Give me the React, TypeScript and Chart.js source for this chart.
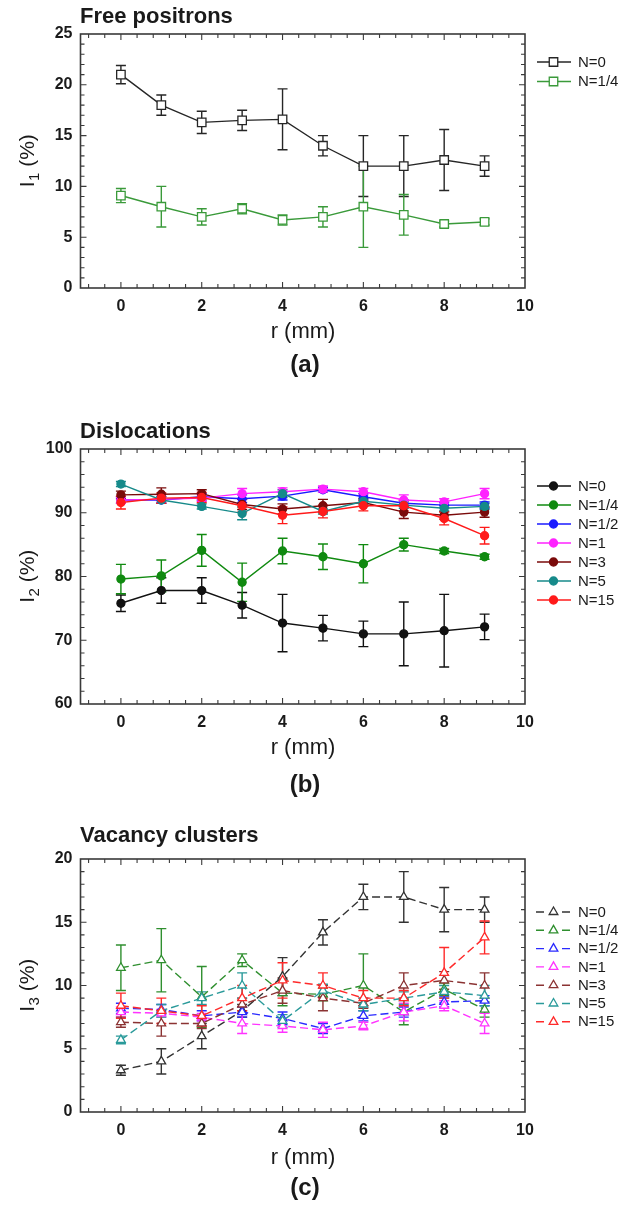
import React, { useEffect, useRef } from 'react';
import { Chart, registerables } from 'chart.js';
Chart.register(...registerables);

const FONT = '"Liberation Sans", Arial, Helvetica, sans-serif';

// x positions (mm)
const R_MM = [0, 1, 2, 3, 4, 5, 6, 7, 8, 9];
const X_TICKS = [0, 2, 4, 6, 8, 10];

// ---- Panel (a) Free positrons, I1 (%)
const A_LABELS = ['N=0', 'N=1/4'];
const A_N0 = [21, 18, 16.3, 16.5, 16.6, 14, 12, 12, 12.6, 12];
const A_N0_ERR = [0.9, 1.0, 1.1, 1.0, 3.0, 1.0, 3.0, 3.0, 3.0, 1.0];
const A_N14 = [9.1, 8, 7, 7.8, 6.7, 7, 8, 7.2, 6.3, 6.5];
const A_N14_ERR = [0.7, 2, 0.8, 0.5, 0.5, 1, 4, 2, 0.3, 0.3];

// ---- Panel (b) Dislocations, I2 (%)
const B_LABELS = ['N=0', 'N=1/4', 'N=1/2', 'N=1', 'N=3', 'N=5', 'N=15'];
const B_N0 = [75.8, 77.8, 77.8, 75.5, 72.7, 71.9, 71.0, 71.0, 71.5, 72.1];
const B_N0_ERR = [1.3, 2, 2, 2, 4.5, 2, 2, 5, 5.7, 2];
const B_N14 = [79.6, 80.1, 84.1, 79.1, 84.0, 83.1, 82.0, 85.0, 84.0, 83.1];
const B_N14_ERR = [2.3, 2.5, 2.5, 3, 2, 2, 3, 1, 0.4, 0.4];
const B_N12 = [92.0, 92.0, 92.5, 92.2, 92.6, 93.6, 92.5, 91.5, 91.2, 91.2];
const B_N12_ERR = [0.5, 0.5, 0.5, 0.6, 0.6, 0.4, 0.5, 0.5, 0.4, 0.5];
const B_N1 = [92.0, 92.1, 92.3, 93.0, 93.3, 93.7, 93.3, 92.0, 91.7, 93.0];
const B_N1_ERR = [0.5, 0.5, 0.5, 0.8, 0.6, 0.5, 0.5, 0.8, 0.5, 0.8];
const B_N3 = [92.8, 92.9, 93.0, 91.3, 90.6, 91.1, 91.6, 90.1, 89.6, 90.1];
const B_N3_ERR = [0.6, 1.0, 0.6, 0.8, 0.8, 1.0, 0.6, 1.0, 0.6, 0.8];
const B_N5 = [94.5, 92.0, 91.0, 89.9, 93.0, 90.2, 91.8, 91.2, 90.7, 91.0];
const B_N5_ERR = [0.4, 0.5, 0.4, 1.0, 0.6, 0.4, 0.5, 0.5, 0.4, 0.5];
const B_N15 = [91.6, 92.3, 92.4, 91.1, 89.6, 90.2, 91.1, 91.1, 89.1, 86.4];
const B_N15_ERR = [1.0, 0.8, 0.8, 1.0, 1.3, 1.0, 0.8, 0.8, 1.0, 1.3];

// ---- Panel (c) Vacancy clusters, I3 (%)
const C_LABELS = ['N=0', 'N=1/4', 'N=1/2', 'N=1', 'N=3', 'N=5', 'N=15'];
const C_N0 = [3.3, 4.0, 6.0, 8.0, 10.7, 14.2, 17.0, 17.0, 16.0, 16.0];
const C_N0_ERR = [0.4, 1.0, 1.0, 0.5, 1.5, 1.0, 1.0, 2.0, 1.75, 1.0];
const C_N14 = [11.4, 12.0, 9.1, 12.0, 9.4, 9.3, 10.0, 7.9, 9.7, 8.1];
const C_N14_ERR = [1.8, 2.5, 2.4, 0.5, 1.0, 0.5, 2.5, 1.0, 0.5, 0.6];
const C_N12 = [8.2, 8.1, 7.6, 7.9, 7.4, 6.6, 7.6, 7.9, 8.7, 8.8];
const C_N12_ERR = [0.4, 0.4, 0.4, 0.4, 0.5, 0.4, 0.4, 0.4, 0.4, 0.4];
const C_N1 = [7.9, 7.8, 7.5, 7.0, 6.8, 6.5, 6.8, 7.9, 8.4, 7.0];
const C_N1_ERR = [0.4, 0.3, 0.3, 0.8, 0.5, 0.6, 0.3, 0.7, 0.4, 0.8];
const C_N3 = [7.1, 7.0, 7.0, 8.5, 9.6, 9.0, 8.6, 10.0, 10.4, 10.0];
const C_N3_ERR = [0.4, 1.0, 0.4, 0.5, 1.0, 1.0, 0.4, 1.0, 0.7, 1.0];
const C_N5 = [5.7, 8.0, 9.0, 10.0, 7.2, 9.6, 8.5, 9.0, 9.5, 9.2];
const C_N5_ERR = [0.3, 0.5, 0.5, 1.0, 0.5, 0.5, 0.5, 0.5, 0.5, 0.8];
const C_N15 = [8.4, 8.0, 7.6, 9.0, 10.4, 10.0, 9.0, 9.0, 11.0, 13.8];
const C_N15_ERR = [1.0, 1.0, 0.8, 1.0, 1.4, 1.0, 0.6, 0.6, 2.0, 1.3];

type Panel = {
  top: number; height: number; areaTop: number; areaBottom: number;
  title: string; sub: string; letter: string;
  yMin: number; yMax: number; yStep: number; yMinor: number;
  series: number[][]; errs: number[][]; colors: string[]; labels: string[];
  marker: 'rect' | 'circle' | 'triangle'; filled: boolean; dashed: boolean; radius: number;
  titleY: number; xTitleY: number; letterY: number; legendY0: number; legendDy: number;
};

const PANELS: Panel[] = [
  {
    top: 0, height: 400, areaTop: 34, areaBottom: 288,
    title: 'Free positrons', sub: '1', letter: '(a)',
    yMin: 0, yMax: 25, yStep: 5, yMinor: 1,
    series: [A_N0, A_N14], errs: [A_N0_ERR, A_N14_ERR],
    colors: ['#262626', '#3a9a3a'], labels: A_LABELS,
    marker: 'rect', filled: false, dashed: false, radius: 6,
    titleY: 17, xTitleY: 332, letterY: 365, legendY0: 62, legendDy: 19.5,
  },
  {
    top: 400, height: 400, areaTop: 49, areaBottom: 304,
    title: 'Dislocations', sub: '2', letter: '(b)',
    yMin: 60, yMax: 100, yStep: 10, yMinor: 2,
    series: [B_N0, B_N14, B_N12, B_N1, B_N3, B_N5, B_N15],
    errs: [B_N0_ERR, B_N14_ERR, B_N12_ERR, B_N1_ERR, B_N3_ERR, B_N5_ERR, B_N15_ERR],
    colors: ['#111111', '#108a10', '#1a1aff', '#ff22ff', '#7a0a0a', '#168a8a', '#ff1a1a'], labels: B_LABELS,
    marker: 'circle', filled: true, dashed: false, radius: 4.5,
    titleY: 32, xTitleY: 348, letterY: 385, legendY0: 86, legendDy: 19,
  },
  {
    top: 800, height: 407, areaTop: 59, areaBottom: 312,
    title: 'Vacancy clusters', sub: '3', letter: '(c)',
    yMin: 0, yMax: 20, yStep: 5, yMinor: 1,
    series: [C_N0, C_N14, C_N12, C_N1, C_N3, C_N5, C_N15],
    errs: [C_N0_ERR, C_N14_ERR, C_N12_ERR, C_N1_ERR, C_N3_ERR, C_N5_ERR, C_N15_ERR],
    colors: ['#333333', '#2f8f2f', '#2a2aff', '#ff33ff', '#8b3333', '#2a9a9a', '#ff2a2a'], labels: C_LABELS,
    marker: 'triangle', filled: false, dashed: true, radius: 5,
    titleY: 36, xTitleY: 358, letterY: 388, legendY0: 112, legendDy: 18.3,
  },
];

const W = 620;
const AREA_LEFT = 80.5;
const AREA_RIGHT = 525;

function drawMarker(ctx: CanvasRenderingContext2D, p: Panel, x: number, y: number, color: string) {
  ctx.save();
  ctx.setLineDash([]);
  ctx.lineWidth = 1.3;
  ctx.strokeStyle = color;
  ctx.fillStyle = p.filled ? color : '#ffffff';
  ctx.beginPath();
  if (p.marker === 'circle') {
    ctx.arc(x, y, p.radius - 0.5, 0, Math.PI * 2);
  } else if (p.marker === 'rect') {
    const s = p.radius * Math.SQRT1_2;
    ctx.rect(x - s, y - s, 2 * s, 2 * s);
  } else {
    const r = p.radius;
    ctx.moveTo(x, y - r);
    ctx.lineTo(x + r * Math.sin(2 * Math.PI / 3), y - r * Math.cos(2 * Math.PI / 3));
    ctx.lineTo(x + r * Math.sin(4 * Math.PI / 3), y - r * Math.cos(4 * Math.PI / 3));
    ctx.closePath();
  }
  ctx.fill();
  ctx.stroke();
  ctx.restore();
}

function makePlugin(p: Panel) {
  return {
    id: 'panelDecor',
    beforeDatasetsDraw(chart: any) {
      const ctx: CanvasRenderingContext2D = chart.ctx;
      const xs = chart.scales.x;
      const ys = chart.scales.y;
      p.series.forEach((ser, i) => {
        ctx.save();
        ctx.strokeStyle = p.colors[i];
        ctx.lineWidth = 1.4;
        ctx.setLineDash([]);
        ser.forEach((v, j) => {
          const e = p.errs[i][j];
          if (!e) return;
          const px = xs.getPixelForValue(R_MM[j]);
          const y1 = ys.getPixelForValue(v - e);
          const y2 = ys.getPixelForValue(v + e);
          ctx.beginPath();
          ctx.moveTo(px, y1); ctx.lineTo(px, y2);
          ctx.moveTo(px - 5, y1); ctx.lineTo(px + 5, y1);
          ctx.moveTo(px - 5, y2); ctx.lineTo(px + 5, y2);
          ctx.stroke();
        });
        ctx.restore();
      });
    },
    afterDraw(chart: any) {
      const ctx: CanvasRenderingContext2D = chart.ctx;
      const a = chart.chartArea;
      const xs = chart.scales.x;
      const ys = chart.scales.y;
      ctx.save();
      // frame
      ctx.strokeStyle = '#3a3a3a';
      ctx.lineWidth = 1.6;
      ctx.setLineDash([]);
      ctx.strokeRect(a.left, a.top, a.right - a.left, a.bottom - a.top);
      // ticks
      ctx.lineWidth = 1.1;
      ctx.beginPath();
      for (let k = -2; k <= 25; k++) {
        const v = k * 0.4;
        const px = xs.getPixelForValue(v);
        if (px <= a.left + 1 || px >= a.right - 1) continue;
        const len = k % 5 === 0 ? 6 : 4;
        ctx.moveTo(px, a.bottom); ctx.lineTo(px, a.bottom - len);
        ctx.moveTo(px, a.top); ctx.lineTo(px, a.top + len);
      }
      const nY = Math.round((p.yMax - p.yMin) / p.yMinor);
      for (let k = 0; k <= nY; k++) {
        const v = p.yMin + k * p.yMinor;
        const py = ys.getPixelForValue(v);
        if (py <= a.top + 1 || py >= a.bottom - 1) continue;
        const isMajor = Math.abs((v - p.yMin) / p.yStep - Math.round((v - p.yMin) / p.yStep)) < 1e-6;
        const len = isMajor ? 6 : 4;
        ctx.moveTo(a.left, py); ctx.lineTo(a.left + len, py);
        ctx.moveTo(a.right, py); ctx.lineTo(a.right - len, py);
      }
      ctx.stroke();

      ctx.fillStyle = '#1a1a1a';
      // panel title
      ctx.font = `bold 22px ${FONT}`;
      ctx.textAlign = 'left';
      ctx.textBaseline = 'middle';
      ctx.fillText(p.title, 80, p.titleY);
      // x title
      ctx.font = `22px ${FONT}`;
      ctx.textAlign = 'center';
      ctx.fillText('r (mm)', 303, p.xTitleY);
      // letter
      ctx.font = `bold 24px ${FONT}`;
      ctx.fillText(p.letter, 305, p.letterY);
      // y title with subscript
      ctx.save();
      ctx.translate(27, (a.top + a.bottom) / 2);
      ctx.rotate(-Math.PI / 2);
      ctx.textAlign = 'left';
      ctx.textBaseline = 'alphabetic';
      const fMain = `21px ${FONT}`;
      const fSub = `15px ${FONT}`;
      ctx.font = fMain;
      const wI = ctx.measureText('I').width;
      const wR = ctx.measureText(' (%)').width;
      ctx.font = fSub;
      const wS = ctx.measureText(p.sub).width;
      let x0 = -(wI + wS + wR) / 2;
      ctx.font = fMain;
      ctx.fillText('I', x0, 7);
      ctx.font = fSub;
      ctx.fillText(p.sub, x0 + wI + 0.5, 12);
      ctx.font = fMain;
      ctx.fillText(' (%)', x0 + wI + wS + 0.5, 7);
      ctx.restore();

      // legend
      p.labels.forEach((lab, i) => {
        const y = p.legendY0 + i * p.legendDy;
        const c = p.colors[i];
        ctx.save();
        ctx.strokeStyle = c;
        ctx.lineWidth = 1.4;
        ctx.beginPath();
        if (p.dashed) {
          ctx.moveTo(536, y); ctx.lineTo(544, y);
          ctx.moveTo(562, y); ctx.lineTo(570, y);
        } else {
          ctx.moveTo(537, y); ctx.lineTo(571, y);
        }
        ctx.stroke();
        ctx.restore();
        drawMarker(ctx, p, 553.5, y, c);
        ctx.fillStyle = '#1a1a1a';
        ctx.font = `15px ${FONT}`;
        ctx.textAlign = 'left';
        ctx.textBaseline = 'middle';
        ctx.fillText(lab, 578, y + 0.5);
      });
      ctx.restore();
    },
  };
}

function PanelChart({ p }: { p: Panel }) {
  const ref = useRef<HTMLCanvasElement | null>(null);
  useEffect(() => {
    if (!ref.current) return;
    const styleName = p.marker === 'rect' ? 'rect' : p.marker === 'circle' ? 'circle' : 'triangle';
    const chart = new Chart(ref.current, {
      type: 'line',
      data: {
        datasets: p.series.map((ser, i) => ({
          label: p.labels[i],
          data: ser.map((v, j) => ({ x: R_MM[j], y: v })),
          borderColor: p.colors[i],
          backgroundColor: p.filled ? p.colors[i] : '#ffffff',
          pointBackgroundColor: p.filled ? p.colors[i] : '#ffffff',
          pointBorderColor: p.colors[i],
          pointBorderWidth: 1.3,
          pointStyle: styleName as any,
          pointRadius: p.marker === 'circle' ? p.radius - 0.5 : p.radius,
          borderWidth: 1.4,
          borderDash: p.dashed ? [8, 4] : [],
          tension: 0,
          fill: false,
          order: -i,
        })),
      },
      options: {
        animation: false,
        responsive: false,
        maintainAspectRatio: false,
        events: [],
        layout: { padding: { left: 0, right: W - AREA_RIGHT, top: p.areaTop, bottom: 0 } },
        plugins: { legend: { display: false }, tooltip: { enabled: false }, title: { display: false } },
        scales: {
          x: {
            type: 'linear',
            min: -1,
            max: 10,
            afterBuildTicks: (s: any) => { s.ticks = X_TICKS.map((v) => ({ value: v })); },
            afterFit: (s: any) => { s.height = p.height - p.areaBottom; },
            grid: { display: false, drawTicks: false },
            border: { display: false },
            ticks: {
              font: { family: FONT, size: 16, weight: 'bold' },
              color: '#1a1a1a',
              padding: 9,
              maxRotation: 0,
              autoSkip: false,
            },
          },
          y: {
            type: 'linear',
            min: p.yMin,
            max: p.yMax,
            afterFit: (s: any) => { s.width = AREA_LEFT; },
            grid: { display: false, drawTicks: false },
            border: { display: false },
            ticks: {
              stepSize: p.yStep,
              font: { family: FONT, size: 16, weight: 'bold' },
              color: '#1a1a1a',
              padding: 8,
            },
          },
        },
      } as any,
      plugins: [makePlugin(p)],
    });
    return () => chart.destroy();
  }, [p]);
  return (
    <canvas
      ref={ref}
      width={W}
      height={p.height}
      style={{ position: 'absolute', left: 0, top: p.top, width: W, height: p.height }}
    />
  );
}

export default function App() {
  return (
    <div style={{ position: 'absolute', left: 0, top: 0, width: W, height: 1207, background: '#ffffff' }}>
      {PANELS.map((p, i) => (
        <PanelChart key={i} p={p} />
      ))}
    </div>
  );
}
